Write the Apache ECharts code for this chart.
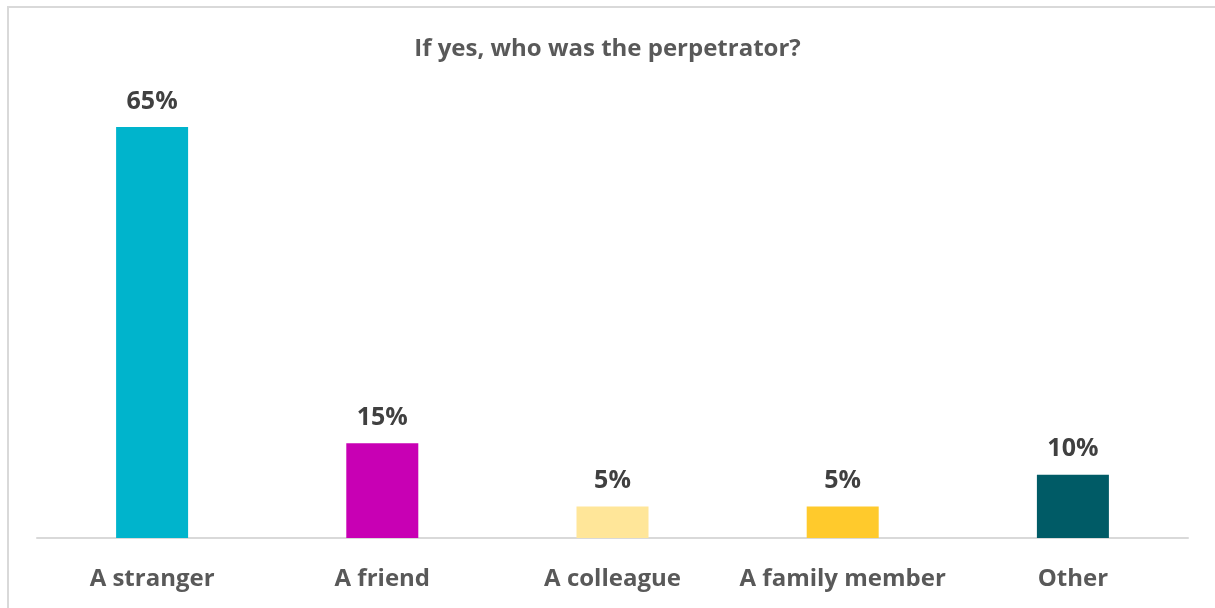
<!DOCTYPE html>
<html>
<head>
<meta charset="utf-8">
<script src="https://cdn.jsdelivr.net/npm/echarts@6/dist/echarts.min.js"></script>
<style>
  html, body { margin: 0; padding: 0; background: #ffffff; }
  #frame { position: absolute; left: 7px; top: 6px; width: 1220px; height: 620px; border: 2px solid #d9d9d9; box-sizing: border-box; }
  #chart { position: absolute; left: 0; top: 0; width: 1215px; height: 608px; }
</style>
</head>
<body>
<div id="frame"></div>
<div id="chart"></div>
<script>
const titleText = 'If yes, who was the perpetrator?';
const categories = ['A stranger', 'A friend', 'A colleague', 'A family member', 'Other'];
const shares = [65, 15, 5, 5, 10];
const barColors = ['#00b4cc', '#c800b4', '#ffe699', '#ffca2c', '#005b66'];

const chart = echarts.init(document.getElementById('chart'), null, { renderer: 'canvas' });
const fontFamily = '"Open Sans", sans-serif';

chart.setOption({
  animation: false,
  title: {
    text: titleText,
    left: 'center',
    top: 32,
    textStyle: { fontFamily, fontWeight: 'bold', fontSize: 24, color: '#595959' }
  },
  grid: { left: 37, right: 27, top: 127, bottom: 70, containLabel: false },
  xAxis: {
    type: 'category',
    data: categories,
    axisLine: { lineStyle: { color: '#d9d9d9', width: 2 } },
    axisTick: { show: false },
    axisLabel: { interval: 0, fontFamily, fontWeight: 'bold', fontSize: 24, color: '#595959', margin: 29 }
  },
  yAxis: {
    type: 'value',
    min: 0,
    max: 65,
    show: false
  },
  series: [{
    type: 'bar',
    barWidth: 72,
    data: shares.map((v, i) => ({ value: v, itemStyle: { color: barColors[i] } })),
    label: {
      show: true,
      position: 'top',
      distance: 13,
      formatter: p => p.value + '%',
      fontFamily, fontWeight: 'bold', fontSize: 25, color: '#404040'
    }
  }]
});
</script>
</body>
</html>
